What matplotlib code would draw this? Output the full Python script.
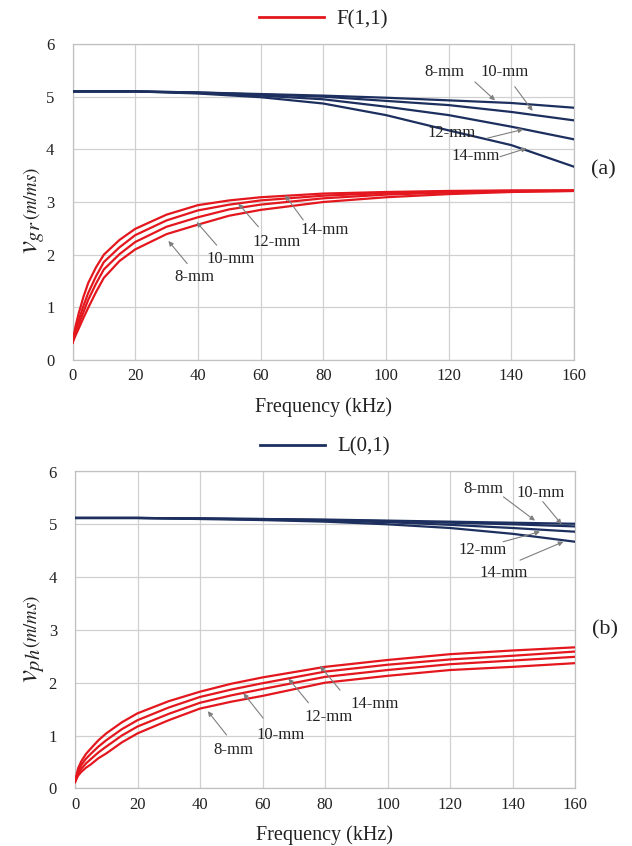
import matplotlib
matplotlib.use("Agg")
import matplotlib.pyplot as plt
from matplotlib.lines import Line2D

plt.rcParams["font.family"] = ["Liberation Serif", "DejaVu Serif"]
plt.rcParams["mathtext.fontset"] = "stix"

# frequency grids (kHz)
FREQ_RED = [0, 1, 2, 3.5, 5, 7.5, 10, 15, 20, 30, 40, 50, 60, 80, 100, 120, 140, 160]
FREQ_BLUE = [0, 20, 40, 60, 80, 100, 120, 140, 160]
SIZES = ["8-mm", "10-mm", "12-mm", "14-mm"]

# (a) group velocity, F(1,1) (red) and L(0,1) (blue)
GR_RED = {
    "8-mm":  [0.33, 0.47, 0.60, 0.80, 0.99, 1.29, 1.56, 1.88, 2.10, 2.39, 2.57, 2.74, 2.85, 3.00, 3.09, 3.15, 3.19, 3.21],
    "10-mm": [0.33, 0.53, 0.68, 0.91, 1.14, 1.45, 1.72, 2.01, 2.24, 2.53, 2.71, 2.86, 2.95, 3.07, 3.14, 3.18, 3.20, 3.21],
    "12-mm": [0.33, 0.57, 0.76, 1.03, 1.27, 1.59, 1.86, 2.14, 2.37, 2.65, 2.84, 2.95, 3.03, 3.12, 3.17, 3.20, 3.21, 3.22],
    "14-mm": [0.33, 0.65, 0.89, 1.20, 1.46, 1.76, 2.00, 2.28, 2.49, 2.76, 2.94, 3.03, 3.09, 3.16, 3.19, 3.21, 3.22, 3.22],
}
GR_BLUE = {
    "8-mm":  [5.10, 5.10, 5.08, 5.05, 5.02, 4.98, 4.93, 4.88, 4.79],
    "10-mm": [5.10, 5.10, 5.08, 5.04, 5.00, 4.92, 4.84, 4.71, 4.55],
    "12-mm": [5.10, 5.10, 5.07, 5.02, 4.95, 4.81, 4.65, 4.43, 4.19],
    "14-mm": [5.10, 5.10, 5.06, 4.99, 4.87, 4.65, 4.36, 4.08, 3.67],
}

# (b) phase velocity
PH_RED = {
    "8-mm":  [0.12, 0.24, 0.31, 0.39, 0.45, 0.57, 0.66, 0.87, 1.04, 1.29, 1.51, 1.64, 1.75, 2.00, 2.13, 2.24, 2.30, 2.37],
    "10-mm": [0.12, 0.28, 0.37, 0.47, 0.55, 0.68, 0.79, 1.00, 1.17, 1.41, 1.62, 1.76, 1.88, 2.11, 2.24, 2.35, 2.42, 2.49],
    "12-mm": [0.12, 0.33, 0.44, 0.56, 0.65, 0.79, 0.91, 1.12, 1.29, 1.53, 1.73, 1.87, 1.99, 2.21, 2.34, 2.44, 2.51, 2.59],
    "14-mm": [0.12, 0.38, 0.51, 0.65, 0.75, 0.91, 1.04, 1.25, 1.42, 1.65, 1.83, 1.98, 2.10, 2.30, 2.43, 2.54, 2.61, 2.67],
}
PH_BLUE = {
    "8-mm":  [5.12, 5.12, 5.11, 5.10, 5.09, 5.07, 5.05, 5.03, 5.01],
    "10-mm": [5.12, 5.12, 5.11, 5.10, 5.08, 5.06, 5.03, 5.00, 4.96],
    "12-mm": [5.12, 5.12, 5.11, 5.09, 5.07, 5.04, 4.99, 4.93, 4.86],
    "14-mm": [5.12, 5.12, 5.10, 5.08, 5.05, 5.00, 4.93, 4.82, 4.67],
}

XTICKS = [0, 20, 40, 60, 80, 100, 120, 140, 160]
YTICKS = [0, 1, 2, 3, 4, 5, 6]

RED = "#e3171d"
NAVY = "#1c2f5e"
GRID = "#d0d0d0"
ARROW = "#7f7f7f"

# label text centre, arrow tail, arrow head (data coords)
ANN_A = [
    ("8-mm", (118.8, 5.46), (128.4, 5.28), (134.8, 4.93)),
    ("10-mm", (138.0, 5.46), (141.1, 5.19), (146.8, 4.73)),
    ("12-mm", (121.1, 4.31), (132.2, 4.21), (143.8, 4.38)),
    ("14-mm", (128.7, 3.87), (136.4, 3.86), (144.9, 4.02)),
    ("14-mm", (80.6, 2.47), (73.6, 2.66), (67.8, 3.13)),
    ("12-mm", (65.0, 2.24), (59.3, 2.53), (52.9, 2.97)),
    ("10-mm", (50.4, 1.92), (46.0, 2.18), (39.6, 2.62)),
    ("8-mm", (38.8, 1.57), (36.6, 1.83), (30.6, 2.26)),
]
ANN_B = [
    ("8-mm", (130.6, 5.67), (137.1, 5.52), (147.2, 5.07)),
    ("10-mm", (149.0, 5.59), (149.7, 5.43), (155.7, 5.00)),
    ("12-mm", (130.3, 4.51), (137.0, 4.67), (148.8, 4.86)),
    ("14-mm", (137.3, 4.08), (142.4, 4.32), (156.3, 4.67)),
    ("14-mm", (96.0, 1.60), (84.8, 1.86), (78.4, 2.32)),
    ("12-mm", (81.0, 1.35), (74.7, 1.62), (68.3, 2.08)),
    ("10-mm", (65.9, 1.01), (60.2, 1.33), (53.9, 1.80)),
    ("8-mm", (50.6, 0.73), (48.5, 1.01), (42.5, 1.46)),
]


def style(ax):
    ax.set_xlim(0, 160)
    ax.set_ylim(0, 6)
    ax.set_xticks(XTICKS)
    ax.set_yticks(YTICKS)
    ax.grid(True, color=GRID, lw=0.9)
    ax.set_axisbelow(True)
    for s in ax.spines.values():
        s.set_color("#c0c0c0")
        s.set_linewidth(0.9)
    ax.tick_params(length=0, labelsize=12, colors="#222222")
    ax.tick_params(axis="y", pad=13)
    ax.tick_params(axis="x", pad=6)
    ax.set_xlabel("Frequency (kHz)", fontsize=14.5, labelpad=9, color="#222222")


def draw(ax, red, blue, ann, legend_label, legend_color):
    for s in SIZES:
        ax.plot(FREQ_BLUE, blue[s], color=NAVY, lw=1.6, zorder=3)
        ax.plot(FREQ_RED, red[s], color=RED, lw=1.6, zorder=3)
    for txt, pos, tail, head in ann:
        ax.text(pos[0], pos[1], txt, fontsize=12, ha="center", va="center", color="#222222")
        ax.annotate("", xy=head, xytext=tail,
                    arrowprops=dict(arrowstyle="-|>", color=ARROW, lw=0.8,
                                    mutation_scale=7, shrinkA=0, shrinkB=0))
    h = Line2D([], [], color=legend_color, lw=2.0)
    ax.legend([h], [legend_label], loc="lower center", bbox_to_anchor=(0.5, 1.02),
              frameon=False, fontsize=15, handlelength=3.1, handletextpad=0.6,
              borderaxespad=0, labelcolor="#222222")
    style(ax)


fig = plt.figure(figsize=(6.32, 8.46), dpi=100)
W, H = 632.0, 846.0
ax1 = fig.add_axes([72.5 / W, 1 - 360 / H, 501.5 / W, 316 / H])
ax2 = fig.add_axes([75 / W, 1 - 788.3 / H, 500 / W, 316.8 / H])

draw(ax1, GR_RED, GR_BLUE, ANN_A, "F(1,1)", RED)
draw(ax2, PH_RED, PH_BLUE, ANN_B, "L(0,1)", NAVY)


def ylabel(sub, yc):
    # big italic v with subscript, then smaller (m/ms) on the same baseline
    fig.text(37 / W, 1 - yc / H, r"$v_{%s}$" % sub, fontsize=21, rotation=90,
             rotation_mode="anchor", ha="right", va="baseline", color="#222222")
    fig.text(37 / W, 1 - yc / H, r"$(m/ms)$", fontsize=13.5, rotation=90,
             rotation_mode="anchor", ha="left", va="baseline", color="#222222")


ylabel("gr", 220)
ylabel("ph", 648)

fig.text(603 / W, 1 - 170 / H, "(a)", fontsize=16, ha="center", va="center", color="#222222")
fig.text(605 / W, 1 - 630 / H, "(b)", fontsize=16, ha="center", va="center", color="#222222")

fig.savefig("out.png", dpi=100, facecolor="white")
